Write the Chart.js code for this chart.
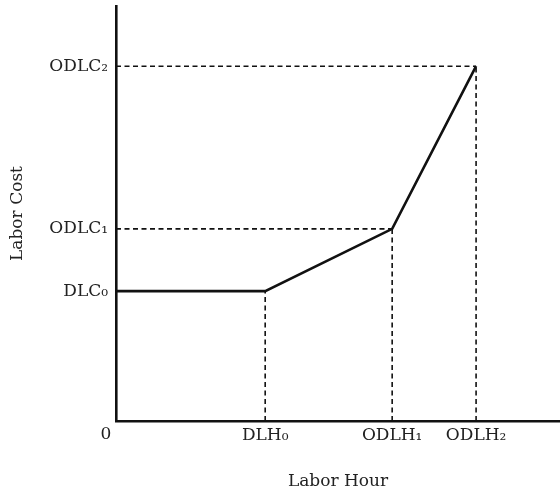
<!DOCTYPE html>
<html lang="en">
<head>
    <meta charset="UTF-8">
    <title>Labor Cost vs Labor Hour</title>
    <script src="https://cdn.jsdelivr.net/npm/chart.js"></script>
    <style>
        html, body { margin: 0; padding: 0; background: #fff; }
        #wrap { width: 560px; height: 492px; }
    </style>
</head>
<body>
    <div id="wrap"><canvas id="costChart"></canvas></div>

    <script>
        // Break points on each axis
        const hourLabels = ['DLH₀', 'ODLH₁', 'ODLH₂'];
        const hourValues = [33.6, 62.2, 81.1];
        const costLabels = ['DLC₀', 'ODLC₁', 'ODLC₂'];
        const costValues = [31.3, 46.3, 85.5];

        // Cost curve: flat at DLC0 up to DLH0, then two rising segments
        const curveHours = [0, hourValues[0], hourValues[1], hourValues[2]];
        const curveCosts = [costValues[0], costValues[0], costValues[1], costValues[2]];

        const labelFont = { family: 'DejaVu Serif', size: 17 };

        let datasets = [{
            data: curveHours.map((h, i) => ({ x: h, y: curveCosts[i] })),
            borderColor: '#111',
            borderWidth: 2.6,
            pointRadius: 0,
            tension: 0
        }];

        // Dashed guides: down to the hour axis and across to the cost axis
        hourValues.forEach((h, i) => {
            let c = curveCosts[i + 1];
            datasets.push({
                data: [{ x: h, y: 0 }, { x: h, y: c }],
                borderColor: '#111', borderWidth: 1.6, borderDash: [5, 3.5], pointRadius: 0
            });
            if (i > 0) {
                datasets.push({
                    data: [{ x: 0, y: c }, { x: h, y: c }],
                    borderColor: '#111', borderWidth: 1.6, borderDash: [5, 3.5], pointRadius: 0
                });
            }
        });

        // "0" sits just left of the origin, under the hour axis
        const zeroLabel = {
            id: 'zeroLabel',
            afterDraw(chart) {
                const ctx = chart.ctx, xs = chart.scales.x;
                ctx.save();
                ctx.font = '17px "DejaVu Serif"';
                ctx.fillStyle = '#222';
                ctx.textAlign = 'center';
                ctx.textBaseline = 'middle';
                ctx.fillText('0', xs.getPixelForValue(0) - 10, 435);
                ctx.restore();
            }
        };

        new Chart(document.getElementById('costChart'), {
            type: 'line',
            data: { datasets },
            plugins: [zeroLabel],
            options: {
                responsive: true,
                maintainAspectRatio: false,
                animation: false,
                layout: { padding: { top: 6, right: 0, bottom: 0, left: 0 } },
                plugins: { legend: { display: false }, tooltip: { enabled: false } },
                scales: {
                    x: {
                        type: 'linear', min: 0, max: 100,
                        afterFit(scale) {
                            scale.height = 71;
                            scale.paddingLeft = 0;
                            scale.paddingRight = 0;
                        },
                        afterBuildTicks(scale) { scale.ticks = hourValues.map(v => ({ value: v })); },
                        grid: { display: false, drawTicks: false },
                        border: { display: true, color: '#111', width: 2.6 },
                        ticks: {
                            color: '#222', font: labelFont, padding: 4, maxRotation: 0, autoSkip: false,
                            callback: (v, i) => hourLabels[i]
                        },
                        title: { display: true, text: 'Labor Hour', color: '#222', font: labelFont, padding: { top: 0, bottom: 0 } }
                    },
                    y: {
                        type: 'linear', min: 0, max: 100,
                        afterFit(scale) {
                            scale.width = 116;
                            scale.paddingTop = 0;
                            scale.paddingBottom = 0;
                        },
                        afterBuildTicks(scale) { scale.ticks = costValues.map(v => ({ value: v })); },
                        grid: { display: false, drawTicks: false },
                        border: { display: true, color: '#111', width: 2.6 },
                        ticks: {
                            color: '#222', font: labelFont, padding: 8, autoSkip: false,
                            callback: (v, i) => costLabels[i]
                        },
                        title: { display: true, text: 'Labor Cost', color: '#222', font: labelFont, padding: { top: 7, bottom: 0 } }
                    }
                }
            }
        });
    </script>
</body>
</html>
